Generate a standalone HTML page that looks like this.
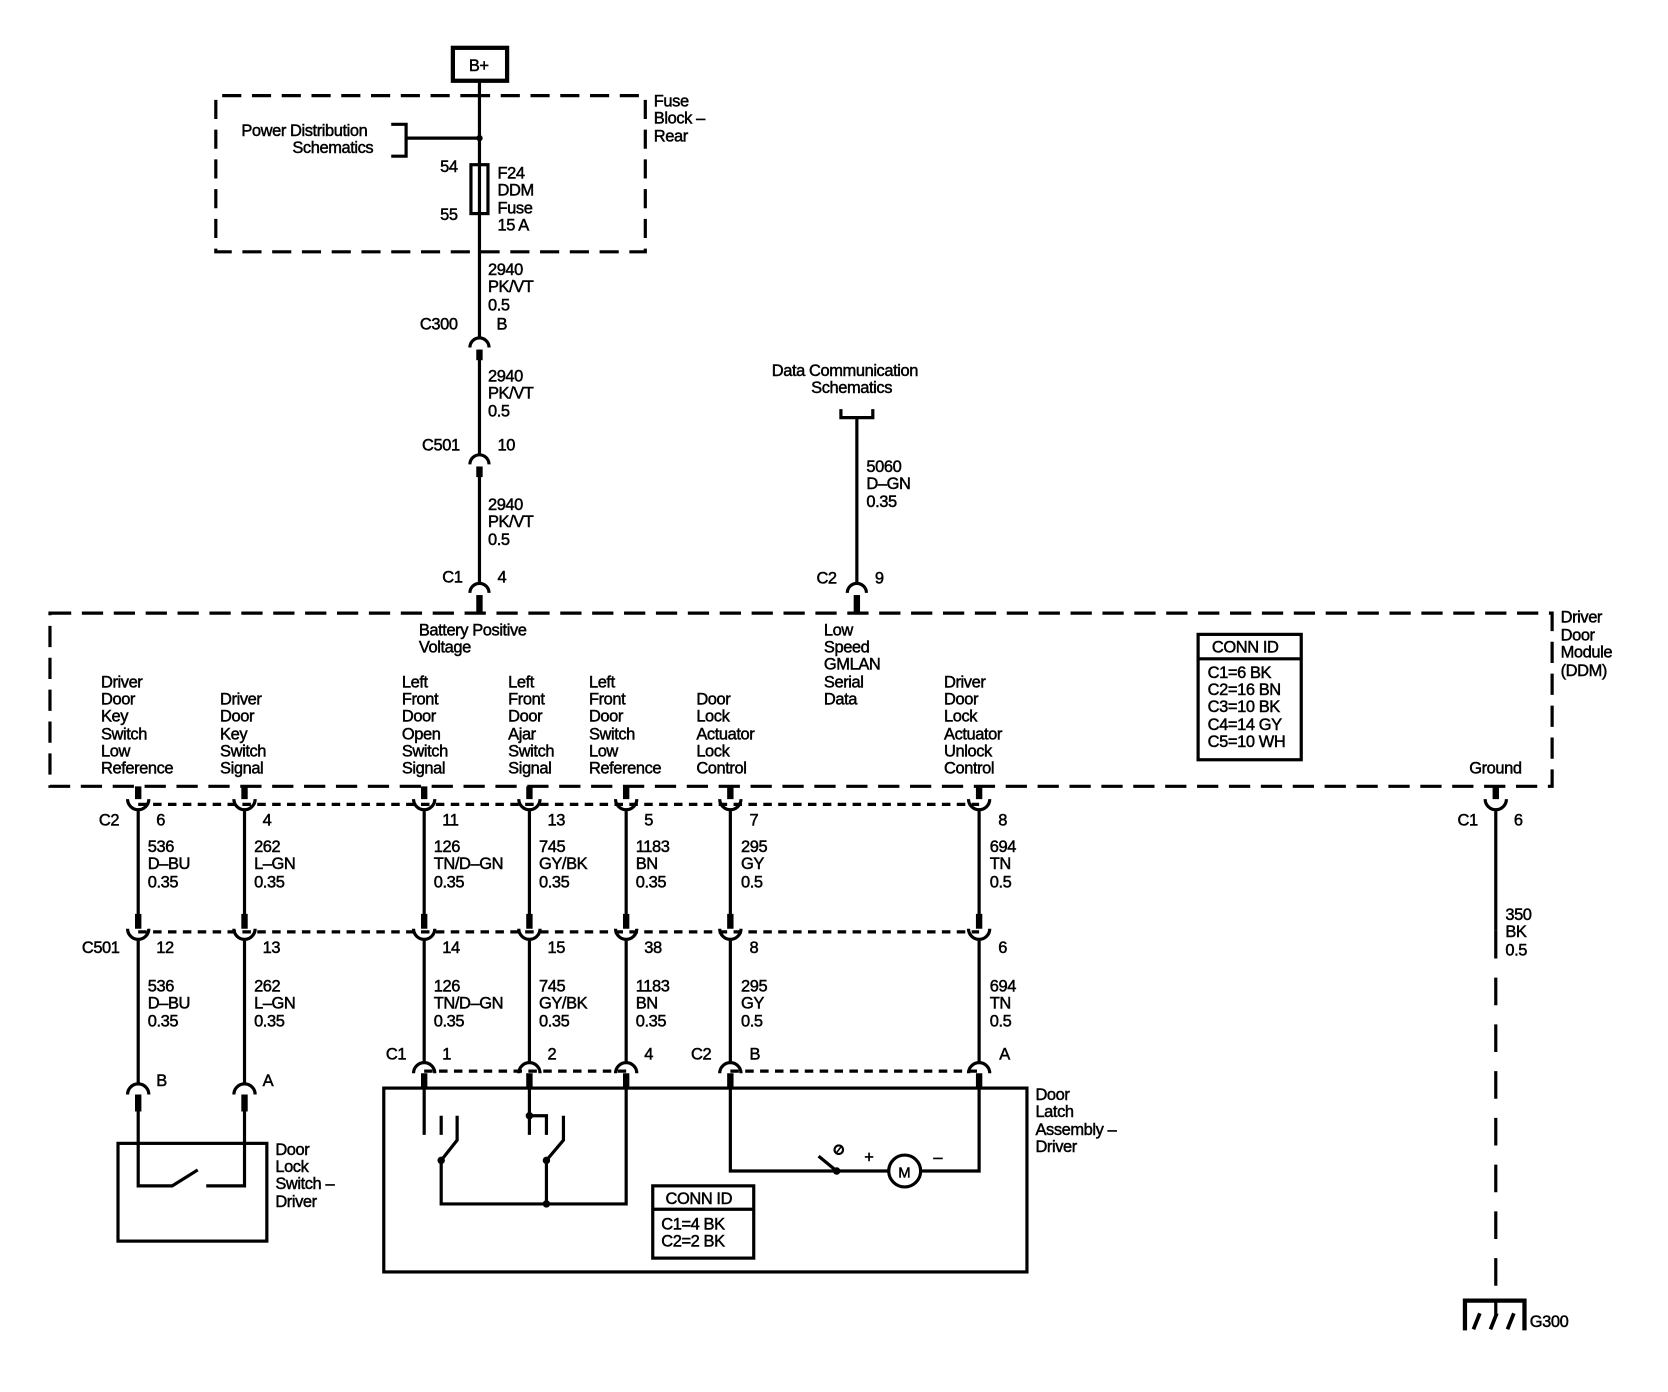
<!DOCTYPE html>
<html><head><meta charset="utf-8"><style>
html,body{margin:0;padding:0;background:#fff;}
svg{display:block;}
text{font-family:"Liberation Sans",sans-serif;font-size:15.5px;fill:#000;letter-spacing:-0.4px;stroke:#000;stroke-width:0.45;}
</style></head><body>
<svg width="1668" height="1392" viewBox="0 0 1569 1310" preserveAspectRatio="none" xmlns="http://www.w3.org/2000/svg">
<g fill="none" stroke="#000" stroke-width="3">
<rect x="426" y="45" width="51" height="31" stroke-width="4"/>
<path d="M451,90 H203 V237 H607 V90 H451" stroke-dasharray="18,10"/>
<line x1="451" y1="76" x2="451" y2="155"/>
<rect x="443" y="155" width="16" height="46"/>
<line x1="451" y1="155" x2="451" y2="201"/>
<line x1="451" y1="201" x2="451" y2="317"/>
<path d="M368,117 H382 V147 H368"/>
<line x1="382" y1="130" x2="451" y2="130"/>
<path d="M442,327 A9,9 0 0 1 460,327"/>
<line x1="451" y1="329" x2="451" y2="427"/>
<line x1="451" y1="329" x2="451" y2="339" stroke-width="6"/>
<path d="M442,437 A9,9 0 0 1 460,437"/>
<line x1="451" y1="439" x2="451" y2="548"/>
<line x1="451" y1="439" x2="451" y2="449" stroke-width="6"/>
<path d="M442,558 A9,9 0 0 1 460,558"/>
<line x1="451" y1="560" x2="451" y2="577" stroke-width="6"/>
<path d="M791,385 V393 H821 V385"/>
<line x1="806" y1="393" x2="806" y2="548"/>
<path d="M797,558 A9,9 0 0 1 815,558"/>
<line x1="806" y1="560" x2="806" y2="577" stroke-width="6"/>
<path d="M47,577 H1460 V740 H47 Z" stroke-dasharray="20,10"/>
<rect x="1127" y="597" width="97" height="118"/>
<line x1="1127" y1="620" x2="1224" y2="620"/>
<line x1="130" y1="757" x2="921" y2="757" stroke-dasharray="8,6"/>
<line x1="130" y1="877" x2="921" y2="877" stroke-dasharray="8,6"/>
<line x1="399" y1="1008" x2="589" y2="1008" stroke-dasharray="8,6"/>
<line x1="687" y1="1008" x2="921" y2="1008" stroke-dasharray="8,6"/>
</g>
<g fill="none" stroke="#000" stroke-width="3">
<path d="M120,752 A10,10 0 0 0 140,752 M130,762 V864 M120,874 A10,10 0 0 0 140,874 M130,884 V1020"/>
<path d="M220,752 A10,10 0 0 0 240,752 M230,762 V864 M220,874 A10,10 0 0 0 240,874 M230,884 V1020"/>
<path d="M389,752 A10,10 0 0 0 409,752 M399,762 V864 M389,874 A10,10 0 0 0 409,874 M399,884 V1000"/>
<path d="M488,752 A10,10 0 0 0 508,752 M498,762 V864 M488,874 A10,10 0 0 0 508,874 M498,884 V1000"/>
<path d="M579,752 A10,10 0 0 0 599,752 M589,762 V864 M579,874 A10,10 0 0 0 599,874 M589,884 V1000"/>
<path d="M677,752 A10,10 0 0 0 697,752 M687,762 V864 M677,874 A10,10 0 0 0 697,874 M687,884 V1000"/>
<path d="M911,752 A10,10 0 0 0 931,752 M921,762 V864 M911,874 A10,10 0 0 0 931,874 M921,884 V1000"/>
<path d="M1397,752 A10,10 0 0 0 1417,752 M1407,762 V876"/>
<line x1="1407" y1="876" x2="1407" y2="1212" stroke-dasharray="26,18"/>
<line x1="1407" y1="1222" x2="1407" y2="1238"/>
<path d="M1378,1252 V1224 H1434 V1252" stroke-width="4"/>
<path d="M1386,1251 L1392,1236 M1402,1251 L1408,1236 M1418,1251 L1424,1236" stroke-width="3.5"/>
<line x1="1392" y1="1236" x2="1424" y2="1236" stroke-width="0"/>
<path d="M389,1010 A10,10 0 0 1 409,1010 M488,1010 A10,10 0 0 1 508,1010 M579,1010 A10,10 0 0 1 599,1010 M677,1010 A10,10 0 0 1 697,1010 M911,1010 A10,10 0 0 1 931,1010"/>
<path d="M120,1030 A10,10 0 0 1 140,1030 M220,1030 A10,10 0 0 1 240,1030"/>
</g>
<g stroke="#000" stroke-width="6">
<path d="M130,740 V752 M230,740 V752 M399,740 V752 M498,740 V752 M589,740 V752 M687,740 V752 M921,740 V752 M1407,740 V752"/>
<path d="M130,860 V874 M230,860 V874 M399,860 V874 M498,860 V874 M589,860 V874 M687,860 V874 M921,860 V874"/>
<path d="M399,1010 V1024 M498,1010 V1024 M589,1010 V1024 M687,1010 V1024 M921,1010 V1024"/>
<path d="M130,1030 V1046 M230,1030 V1046"/>
</g>
<g fill="none" stroke="#000" stroke-width="3">
<rect x="111" y="1076" width="140" height="92"/>
<path d="M130,1046 V1116 H162 L186,1101 M194,1116 H230 V1046"/>
<rect x="361" y="1024" width="605" height="173"/>
<path d="M399,1024 V1068 M415,1050 V1068 M430,1050 V1073 L415,1092 V1133 H589 V1024"/>
<path d="M498,1024 V1068 M498,1050 H514 V1068 M530,1050 V1073 L514,1092 V1133"/>
<path d="M687,1024 V1102 H770 L787,1102 H836 M866,1102 H921 V1024"/>
<path d="M770,1088 L787,1102"/>
<circle cx="851" cy="1102" r="15"/>
<rect x="614" y="1116" width="95" height="68"/>
<line x1="614" y1="1138" x2="709" y2="1138"/>
</g>
<g fill="#000">
<circle cx="451" cy="130" r="3"/>
<circle cx="415" cy="1092" r="3.5"/>
<circle cx="514" cy="1092" r="3.5"/>
<circle cx="498" cy="1050" r="3.5"/>
<circle cx="514" cy="1133" r="3.5"/>
<circle cx="787" cy="1102" r="3.5"/>
</g>
<circle cx="789" cy="1082" r="4" fill="none" stroke="#000" stroke-width="2"/>
<line x1="786" y1="1086" x2="792" y2="1078" stroke="#000" stroke-width="1.5"/>
<text x="441" y="67">B+</text>
<text x="227" y="128">Power Distribution</text>
<text x="275" y="144">Schematics</text>
<text x="615" y="100">Fuse</text><text x="615" y="116">Block –</text><text x="615" y="133">Rear</text>
<text x="414" y="162">54</text><text x="414" y="207">55</text>
<text x="468" y="168">F24</text><text x="468" y="184">DDM</text><text x="468" y="201">Fuse</text><text x="468" y="217">15 A</text>
<text x="459" y="259">2940</text><text x="459" y="275">PK/VT</text><text x="459" y="292">0.5</text>
<text x="395" y="310">C300</text><text x="467" y="310">B</text>
<text x="459" y="359">2940</text><text x="459" y="375">PK/VT</text><text x="459" y="392">0.5</text>
<text x="397" y="424">C501</text><text x="468" y="424">10</text>
<text x="459" y="480">2940</text><text x="459" y="496">PK/VT</text><text x="459" y="513">0.5</text>
<text x="416" y="548">C1</text><text x="468" y="548">4</text>
<text x="726" y="354">Data Communication</text><text x="763" y="370">Schematics</text>
<text x="815" y="444">5060</text><text x="815" y="460">D–GN</text><text x="815" y="477">0.35</text>
<text x="768" y="549">C2</text><text x="823" y="549">9</text>
<text x="1468" y="586">Driver</text><text x="1468" y="603">Door</text><text x="1468" y="619">Module</text><text x="1468" y="636">(DDM)</text>
<text x="394" y="598">Battery Positive</text><text x="394" y="614">Voltage</text>
<text x="775" y="598">Low</text><text x="775" y="614">Speed</text><text x="775" y="630">GMLAN</text><text x="775" y="647">Serial</text><text x="775" y="663">Data</text>
<text x="1140" y="614">CONN ID</text>
<text x="1136" y="638">C1=6 BK</text><text x="1136" y="654">C2=16 BN</text><text x="1136" y="670">C3=10 BK</text><text x="1136" y="687">C4=14 GY</text><text x="1136" y="703">C5=10 WH</text>
<text x="95" y="647">Driver</text><text x="95" y="663">Door</text><text x="95" y="679">Key</text><text x="95" y="696">Switch</text><text x="95" y="712">Low</text><text x="95" y="728">Reference</text>
<text x="207" y="663">Driver</text><text x="207" y="679">Door</text><text x="207" y="696">Key</text><text x="207" y="712">Switch</text><text x="207" y="728">Signal</text>
<text x="378" y="647">Left</text><text x="378" y="663">Front</text><text x="378" y="679">Door</text><text x="378" y="696">Open</text><text x="378" y="712">Switch</text><text x="378" y="728">Signal</text>
<text x="478" y="647">Left</text><text x="478" y="663">Front</text><text x="478" y="679">Door</text><text x="478" y="696">Ajar</text><text x="478" y="712">Switch</text><text x="478" y="728">Signal</text>
<text x="554" y="647">Left</text><text x="554" y="663">Front</text><text x="554" y="679">Door</text><text x="554" y="696">Switch</text><text x="554" y="712">Low</text><text x="554" y="728">Reference</text>
<text x="655" y="663">Door</text><text x="655" y="679">Lock</text><text x="655" y="696">Actuator</text><text x="655" y="712">Lock</text><text x="655" y="728">Control</text>
<text x="888" y="647">Driver</text><text x="888" y="663">Door</text><text x="888" y="679">Lock</text><text x="888" y="696">Actuator</text><text x="888" y="712">Unlock</text><text x="888" y="728">Control</text>
<text x="1382" y="728">Ground</text>
<text x="93" y="777">C2</text><text x="147" y="777">6</text><text x="247" y="777">4</text><text x="416" y="777">11</text><text x="515" y="777">13</text><text x="606" y="777">5</text><text x="705" y="777">7</text><text x="939" y="777">8</text>
<text x="1371" y="777">C1</text><text x="1424" y="777">6</text>
<text x="139" y="802">536</text><text x="139" y="818">D–BU</text><text x="139" y="835">0.35</text>
<text x="239" y="802">262</text><text x="239" y="818">L–GN</text><text x="239" y="835">0.35</text>
<text x="408" y="802">126</text><text x="408" y="818">TN/D–GN</text><text x="408" y="835">0.35</text>
<text x="507" y="802">745</text><text x="507" y="818">GY/BK</text><text x="507" y="835">0.35</text>
<text x="598" y="802">1183</text><text x="598" y="818">BN</text><text x="598" y="835">0.35</text>
<text x="697" y="802">295</text><text x="697" y="818">GY</text><text x="697" y="835">0.5</text>
<text x="931" y="802">694</text><text x="931" y="818">TN</text><text x="931" y="835">0.5</text>
<text x="1416" y="866">350</text><text x="1416" y="882">BK</text><text x="1416" y="899">0.5</text>
<text x="77" y="897">C501</text><text x="147" y="897">12</text><text x="247" y="897">13</text><text x="416" y="897">14</text><text x="515" y="897">15</text><text x="606" y="897">38</text><text x="705" y="897">8</text><text x="939" y="897">6</text>
<text x="139" y="933">536</text><text x="139" y="949">D–BU</text><text x="139" y="966">0.35</text>
<text x="239" y="933">262</text><text x="239" y="949">L–GN</text><text x="239" y="966">0.35</text>
<text x="408" y="933">126</text><text x="408" y="949">TN/D–GN</text><text x="408" y="966">0.35</text>
<text x="507" y="933">745</text><text x="507" y="949">GY/BK</text><text x="507" y="966">0.35</text>
<text x="598" y="933">1183</text><text x="598" y="949">BN</text><text x="598" y="966">0.35</text>
<text x="697" y="933">295</text><text x="697" y="949">GY</text><text x="697" y="966">0.5</text>
<text x="931" y="933">694</text><text x="931" y="949">TN</text><text x="931" y="966">0.5</text>
<text x="363" y="997">C1</text><text x="416" y="997">1</text><text x="515" y="997">2</text><text x="606" y="997">4</text>
<text x="650" y="997">C2</text><text x="705" y="997">B</text><text x="940" y="997">A</text>
<text x="147" y="1022">B</text><text x="247" y="1022">A</text>
<text x="259" y="1087">Door</text><text x="259" y="1103">Lock</text><text x="259" y="1119">Switch –</text><text x="259" y="1136">Driver</text>
<text x="974" y="1035">Door</text><text x="974" y="1051">Latch</text><text x="974" y="1068">Assembly –</text><text x="974" y="1084">Driver</text>
<text x="845" y="1108" style="font-size:14px">M</text>
<text x="813" y="1094">+</text><text x="878" y="1094">–</text>
<text x="626" y="1133">CONN ID</text>
<text x="622" y="1157">C1=4 BK</text><text x="622" y="1173">C2=2 BK</text>
<text x="1439" y="1249">G300</text>
</svg>
</body></html>
